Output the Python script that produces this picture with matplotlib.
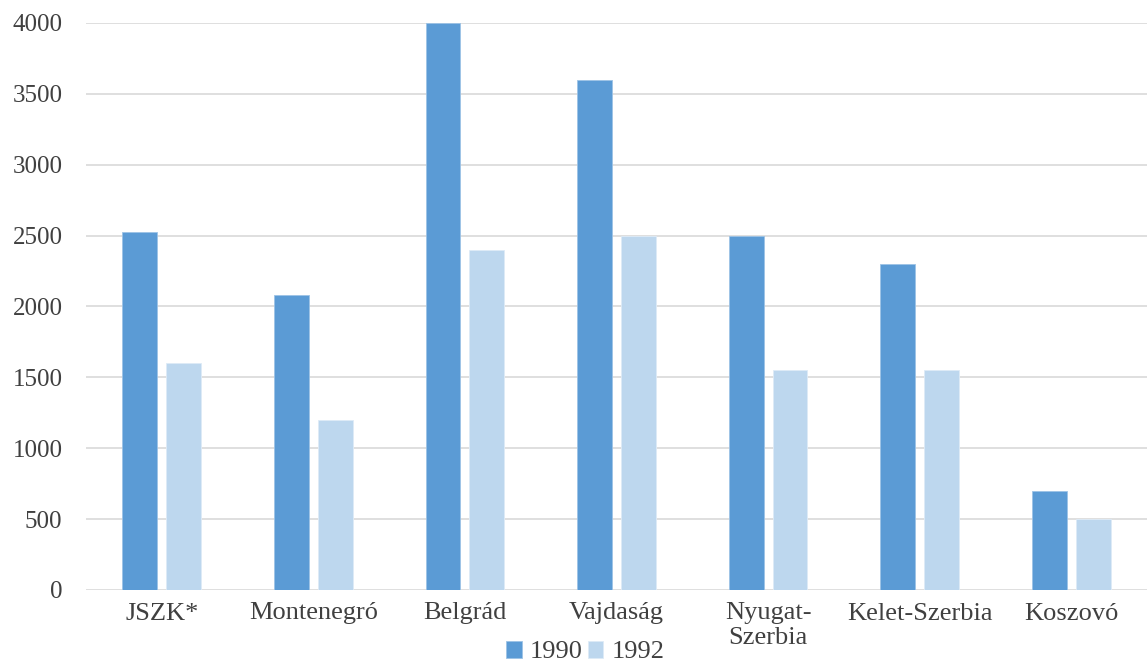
import numpy as np
import matplotlib.pyplot as plt

# Regional values, 1990 vs 1992
regiok = ['JSZK*', 'Montenegró', 'Belgrád', 'Vajdaság', 'Nyugat-\nSzerbia', 'Kelet-Szerbia', 'Koszovó']
ev1990 = [2525, 2080, 4000, 3600, 2500, 2300, 700]
ev1992 = [1600, 1200, 2400, 2500, 1550, 1550, 500]
yticks = [0, 500, 1000, 1500, 2000, 2500, 3000, 3500, 4000]

plt.rcParams['font.family'] = ['Liberation Serif', 'DejaVu Serif']

fig = plt.figure(figsize=(11.47, 6.64), dpi=100)
ax = fig.add_axes([86/1147, 1 - 590/664, 1061/1147, 567/664])

x = np.arange(len(regiok))
w = 0.23
gap = 0.06
ax.bar(x - (w + gap)/2, ev1990, w, color='#5B9BD5', edgecolor='#9DC3E6', linewidth=0.6, label='1990', zorder=3)
ax.bar(x + (w + gap)/2, ev1992, w, color='#BDD7EE', edgecolor='#DEEBF7', linewidth=0.6, label='1992', zorder=3)

ax.set_xlim(-0.5, len(regiok) - 0.5)
ax.set_ylim(0, 4000)
ax.set_yticks(yticks)
ax.set_xticks(x)
ax.set_xticklabels(regiok, linespacing=1.15)
ax.tick_params(axis='both', length=0, labelsize=19, colors='#404040')
ax.tick_params(axis='y', pad=17, labelsize=18)
ax.tick_params(axis='x', pad=9)
ax.grid(axis='y', color='#D9D9D9', linewidth=1.2, zorder=0)
for s in ax.spines.values():
    s.set_visible(False)

leg = fig.legend(loc='lower center', bbox_to_anchor=(585/1147, -0.035), ncol=2, frameon=False,
                 fontsize=19, handlelength=0.6, handleheight=0.6, handletextpad=0.3, columnspacing=0.2)
for t in leg.get_texts():
    t.set_color('#404040')

fig.savefig('out.png', dpi=100)
